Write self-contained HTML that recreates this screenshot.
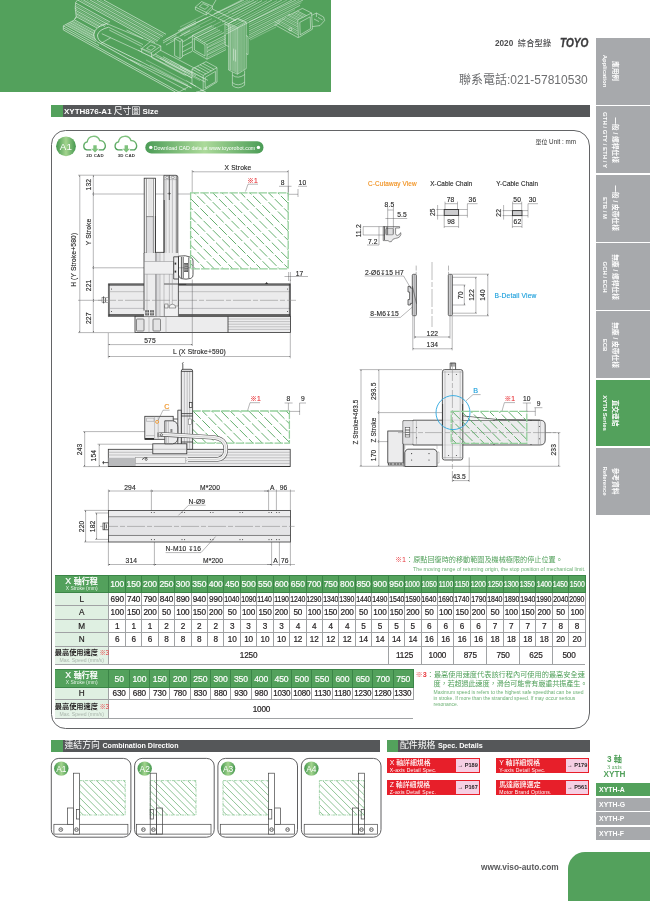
<!DOCTYPE html>
<html lang="zh-Hant">
<head>
<meta charset="utf-8">
<title>XYTH876-A1</title>
<style>
html,body{margin:0;padding:0;background:#fff;}
body{width:650px;height:901px;position:relative;overflow:hidden;font-family:"Liberation Sans","Noto Sans CJK TC",sans-serif;color:#231f20;}
.abs{position:absolute;}
.t{position:absolute;white-space:nowrap;line-height:1;}
.tc{position:absolute;white-space:nowrap;line-height:1;transform:translate(-50%,-50%);}
.tr{position:absolute;white-space:nowrap;line-height:1;transform:translate(-50%,-50%) rotate(-90deg);}
#banner{left:0;top:0;width:331px;height:92.2px;background:#53a15c;}
.bar{position:absolute;height:11.6px;background:#555759;}
.gsq{position:absolute;height:11.6px;width:11.8px;background:#53a15c;}
.tab{position:absolute;left:596px;width:54px;background:#a7a9ac;}
.tab.g{background:#53a15c;}
.tab .c,.tab .e{position:absolute;top:50%;white-space:nowrap;color:#fff;font-weight:bold;line-height:1;transform:translate(-50%,-50%) rotate(90deg);}
.tab .c{left:19.3px;font-size:6.7px;}
.tab .e{left:9px;font-size:6px;}
#mainbox{left:50.8px;top:129.8px;width:539px;height:598.8px;border:1.1px solid #636466;border-radius:14.5px 16px 16px 14.5px;box-sizing:border-box;}
.dim{font-size:6.6px;color:#231f20;}
table.spec{position:absolute;border-collapse:collapse;table-layout:fixed;font-size:8.2px;border-top:1px solid #4a4a4a;border-bottom:1px solid #4a4a4a;}
table.spec td,table.spec th{padding:0;text-align:center;vertical-align:middle;border:1px solid #a0a2a4;font-weight:normal;white-space:nowrap;overflow:hidden;line-height:1;padding-top:1px;letter-spacing:-0.15px;}
table.spec th{background:#53a15c;color:#fff;border-color:#3b8547;font-size:8.6px;letter-spacing:-0.1px;}
table.spec td{-webkit-text-stroke:0.2px #231f20;}
table.spec th{-webkit-text-stroke:0.2px #fff;}
table.spec td.l{background:#dff0e2;border-left:none;}
table.spec th.l{border-left:none;}
table.spec .n span{display:inline-block;transform:scaleX(0.85);transform-origin:50% 50%;margin:0 -3px;}
table.t2 .n span{transform:scaleX(0.98);}
table.t1 th.n span{transform:scaleX(0.8);}
table.spec td.sp{background:linear-gradient(#dff0e2,#e6f3e8);border-left:none;text-align:left;overflow:visible;letter-spacing:0;}
.hl{display:block;font-size:8px;font-weight:500;letter-spacing:0.1px;margin-top:-0.5px;}
.hl i{font-style:normal;font-size:8.8px;font-weight:normal;}
.hs{display:block;-webkit-text-stroke:0;font-size:4.95px;margin-top:0.9px;color:#e4f2e6;letter-spacing:0;}
.sl{display:block;font-size:7.2px;font-weight:bold;color:#231f20;letter-spacing:0;}
.sl{-webkit-text-stroke:0;}
.sl b{color:#e8383d;font-weight:normal;font-size:6.4px;margin-left:1.6px;letter-spacing:-0.3px;}
.ss{display:block;-webkit-text-stroke:0;font-size:5.1px;color:#a9b5ab;text-align:center;margin-top:2px;letter-spacing:0;}
.btn{position:absolute;width:93.4px;height:15.2px;background:#e71f2a;}
.btn .c1{position:absolute;left:3.2px;top:1.6px;font-size:6.9px;color:#fff;line-height:1;white-space:nowrap;font-weight:500;}
.btn .c2{position:absolute;left:3.2px;top:9.6px;font-size:5.1px;color:#fff;line-height:1;white-space:nowrap;letter-spacing:0.2px;}
.btn .pg{position:absolute;right:1px;top:1.4px;width:22.5px;height:12.4px;background:#f6cfe3;font-size:5.6px;font-weight:bold;color:#231f20;line-height:12.4px;text-align:center;white-space:nowrap;}
.cbox{position:absolute;top:758px;width:80px;height:79.5px;border:1px solid #4d4d4f;border-radius:8px;box-sizing:border-box;}
.badge{position:absolute;border-radius:50%;background:radial-gradient(circle at 50% 40%,#9fd08f 0%,#6fb56a 45%,#3f8f4a 100%);color:#fff;text-align:center;}
.rtab{position:absolute;left:595.8px;width:55px;height:13px;background:#a7a9ac;color:#fff;font-weight:bold;font-size:6.9px;line-height:13.4px;text-indent:3.3px;}
</style>
</head>
<body>
<div id="page" style="position:absolute;left:0;top:0;width:650px;height:901px;overflow:hidden;will-change:transform;">
<div id="banner" class="abs"></div>
<div class="t" style="left:495px;top:40.1px;font-size:8.2px;font-weight:bold;color:#4d4d4f;">2020&nbsp; <span style="font-weight:500;letter-spacing:0.2px;">綜合型錄</span></div>
<div class="t" style="left:560.3px;top:37.2px;font-size:12.2px;font-weight:bold;font-style:italic;color:#3c3c3e;transform:scaleX(0.83);transform-origin:0 0;-webkit-text-stroke:0.35px #3c3c3e;">TOYO</div>
<div class="t" style="left:459px;top:73.5px;font-size:12px;color:#6d6e70;">聯系電話:021-57810530</div>

<!-- title bar -->
<div class="gsq" style="left:51px;top:105.4px;"></div>
<div class="bar" style="left:62.6px;top:105.4px;width:527px;"></div>
<div class="t" style="left:64px;top:107.3px;font-size:8px;color:#fff;font-weight:bold;">XYTH876-A1 <span style="font-weight:normal;font-size:8.8px;">尺寸圖</span> Size</div>

<!-- side tabs -->
<div class="tab" style="top:38px;height:66.7px;"><span class="c">應用例</span><span class="e">Application</span></div>
<div class="tab" style="top:106.3px;height:66.6px;"><span class="c">一般 / 螺桿仕樣</span><span class="e">GTH / GTY / ETH / Y</span></div>
<div class="tab" style="top:174.6px;height:67.2px;"><span class="c">一般 / 皮帶仕樣</span><span class="e">ETB / M</span></div>
<div class="tab" style="top:243.2px;height:67px;"><span class="c">無塵 / 螺桿仕樣</span><span class="e">GCH / ECH</span></div>
<div class="tab" style="top:311.3px;height:66.8px;"><span class="c">無塵 / 皮帶仕樣</span><span class="e">ECB</span></div>
<div class="tab g" style="top:379.7px;height:66.7px;"><span class="c">直交連結</span><span class="e">XYTH Series</span></div>
<div class="tab" style="top:448px;height:66.5px;"><span class="c">參考資料</span><span class="e">Reference</span></div>

<div id="mainbox" class="abs"></div>
<!-- TABLES -->
<table class="spec t1" style="left:54.8px;top:575px;width:530.6px;">
<colgroup><col style="width:54.2px"><col style="width:16.428px"><col style="width:16.428px"><col style="width:16.428px"><col style="width:16.428px"><col style="width:16.428px"><col style="width:16.428px"><col style="width:16.428px"><col style="width:16.428px"><col style="width:16.428px"><col style="width:16.428px"><col style="width:16.428px"><col style="width:16.428px"><col style="width:16.428px"><col style="width:16.428px"><col style="width:16.428px"><col style="width:16.428px"><col style="width:16.428px"><col style="width:16.428px"><col style="width:16.428px"><col style="width:16.428px"><col style="width:16.428px"><col style="width:16.428px"><col style="width:16.428px"><col style="width:16.428px"><col style="width:16.428px"><col style="width:16.428px"><col style="width:16.428px"><col style="width:16.428px"><col style="width:16.428px"></colgroup>
<tr style="height:17px"><th class="l"><span class="hl"><i>X</i> 軸行程</span><span class="hs">X Stroke (mm)</span></th><th>100</th><th>150</th><th>200</th><th>250</th><th>300</th><th>350</th><th>400</th><th>450</th><th>500</th><th>550</th><th>600</th><th>650</th><th>700</th><th>750</th><th>800</th><th>850</th><th>900</th><th>950</th><th class="n"><span>1000</span></th><th class="n"><span>1050</span></th><th class="n"><span>1100</span></th><th class="n"><span>1150</span></th><th class="n"><span>1200</span></th><th class="n"><span>1250</span></th><th class="n"><span>1300</span></th><th class="n"><span>1350</span></th><th class="n"><span>1400</span></th><th class="n"><span>1450</span></th><th class="n"><span>1500</span></th></tr>
<tr style="height:13.4px"><td class="l">L</td><td>690</td><td>740</td><td>790</td><td>840</td><td>890</td><td>940</td><td>990</td><td class="n"><span>1040</span></td><td class="n"><span>1090</span></td><td class="n"><span>1140</span></td><td class="n"><span>1190</span></td><td class="n"><span>1240</span></td><td class="n"><span>1290</span></td><td class="n"><span>1340</span></td><td class="n"><span>1390</span></td><td class="n"><span>1440</span></td><td class="n"><span>1490</span></td><td class="n"><span>1540</span></td><td class="n"><span>1590</span></td><td class="n"><span>1640</span></td><td class="n"><span>1690</span></td><td class="n"><span>1740</span></td><td class="n"><span>1790</span></td><td class="n"><span>1840</span></td><td class="n"><span>1890</span></td><td class="n"><span>1940</span></td><td class="n"><span>1990</span></td><td class="n"><span>2040</span></td><td class="n"><span>2090</span></td></tr>
<tr style="height:13.8px"><td class="l">A</td><td>100</td><td>150</td><td>200</td><td>50</td><td>100</td><td>150</td><td>200</td><td>50</td><td>100</td><td>150</td><td>200</td><td>50</td><td>100</td><td>150</td><td>200</td><td>50</td><td>100</td><td>150</td><td>200</td><td>50</td><td>100</td><td>150</td><td>200</td><td>50</td><td>100</td><td>150</td><td>200</td><td>50</td><td>100</td></tr>
<tr style="height:13.3px"><td class="l">M</td><td>1</td><td>1</td><td>1</td><td>2</td><td>2</td><td>2</td><td>2</td><td>3</td><td>3</td><td>3</td><td>3</td><td>4</td><td>4</td><td>4</td><td>4</td><td>5</td><td>5</td><td>5</td><td>5</td><td>6</td><td>6</td><td>6</td><td>6</td><td>7</td><td>7</td><td>7</td><td>7</td><td>8</td><td>8</td></tr>
<tr style="height:13.7px"><td class="l">N</td><td>6</td><td>6</td><td>6</td><td>8</td><td>8</td><td>8</td><td>8</td><td>10</td><td>10</td><td>10</td><td>10</td><td>12</td><td>12</td><td>12</td><td>12</td><td>14</td><td>14</td><td>14</td><td>14</td><td>16</td><td>16</td><td>16</td><td>16</td><td>18</td><td>18</td><td>18</td><td>18</td><td>20</td><td>20</td></tr>
<tr style="height:18.2px"><td class="sp"><span class="sl">最高使用速度<b>※3</b></span><span class="ss">Max. Speed (mm/s)</span></td><td colspan="17">1250</td><td colspan="2">1125</td><td colspan="2">1000</td><td colspan="2">875</td><td colspan="2">750</td><td colspan="2">625</td><td colspan="2" style="border-right:none">500</td></tr>
</table>
<table class="spec t2" style="left:54.8px;top:669px;width:358.9px;">
<colgroup><col style="width:54.2px"><col style="width:20.31px"><col style="width:20.31px"><col style="width:20.31px"><col style="width:20.31px"><col style="width:20.31px"><col style="width:20.31px"><col style="width:20.31px"><col style="width:20.31px"><col style="width:20.31px"><col style="width:20.31px"><col style="width:20.31px"><col style="width:20.31px"><col style="width:20.31px"><col style="width:20.31px"><col style="width:20.31px"></colgroup>
<tr style="height:17.6px"><th class="l"><span class="hl"><i>X</i> 軸行程</span><span class="hs">X Stroke (mm)</span></th><th>50</th><th>100</th><th>150</th><th>200</th><th>250</th><th>300</th><th>350</th><th>400</th><th>450</th><th>500</th><th>550</th><th>600</th><th>650</th><th>700</th><th>750</th></tr>
<tr style="height:12.6px"><td class="l">H</td><td>630</td><td>680</td><td>730</td><td>780</td><td>830</td><td>880</td><td>930</td><td>980</td><td class="n"><span>1030</span></td><td class="n"><span>1080</span></td><td class="n"><span>1130</span></td><td class="n"><span>1180</span></td><td class="n"><span>1230</span></td><td class="n"><span>1280</span></td><td class="n"><span>1330</span></td></tr>
<tr style="height:19.2px"><td class="sp"><span class="sl">最高使用速度<b>※3</b></span><span class="ss">Max. Speed (mm/s)</span></td><td colspan="15" style="border-right:none">1000</td></tr>
</table>
<svg class="abs" style="left:0;top:0;" width="331" height="92" viewBox="0 0 331 92">
<g fill="none" stroke="#fff" stroke-width="0.55" stroke-opacity="0.85" stroke-linejoin="round">
<!-- X rail end face -->
<path d="M63.3,25.9 L74.4,19.9 L76.2,17 L75.2,8 L75.6,2.5 L77.6,0 M63.3,25.9 V29.9 M76.2,17 L74.6,19 M75.2,8 L76.6,9.4"/>
<!-- X rail long lines -->
<g stroke-width="0.6" stroke-opacity="0.9">
<path d="M103.7,0 L166,34.3 M96.7,0 L163,36.5 M90,0 L160,38.5 M83.3,0 L158,41 M77.6,0 L155,42.6"/>
<path d="M75.6,3 L110,22 M75.3,6.5 L108,24.5 M75.3,10.2 L105,26.5 M75.8,13.5 L100,26.8 M76,16.5 L97,28"/>
<path d="M74.4,19.9 L95,31.2 M72.1,21.4 L94.3,33.6 M69.9,22.6 L94,35.9 M67.7,23.7 L94.6,38.5 M65.5,24.8 L96,41.6 M63.3,25.9 L99,45.5"/>
<path d="M63.3,27.9 L179,92 M63.3,29.9 L175.4,92"/>
</g>
<path d="M80.5,0 L157,42 M86.6,0 L159,39.8 M93.4,0 L161.6,37.4 M100,0 L164.4,35.4 M75.4,4.8 L109,23.2 M75.2,8.4 L106,25.4 M75.6,12 L102,26.6 M76,15 L98.6,27.4 M73.2,20.7 L94.6,32.4 M71,22 L94,34.8 M68.8,23.2 L94.2,37.2 M66.6,24.3 L95.2,40" stroke-opacity="0.5"/>
<!-- cable loop -->
<path d="M106.7,23.6 Q95,26.5 93.8,34.2 Q94,41 100.6,43.5 L141,66" stroke-width="0.7"/>
<path d="M108.6,27.2 Q99,29.5 97.5,35 Q97.6,40 101.8,42.3 L141.7,62" stroke-width="0.7"/>
<path d="M106.7,23.6 L150.3,41.7 M108.6,27.2 L143,44.6 M101.8,33.7 L141.7,52 M109.2,30 L141.7,46.4 M100.6,43.5 L110.6,37.8 M126.5,30 L143,38.5"/>
<!-- connector block -->
<path d="M141.7,48.5 L150.3,41.7 L160.8,46 L151.5,52.6 Z M141.7,48.5 V52.4 L151.5,56.6 V52.6 M151.5,56.6 L160.8,50 V46 M146.6,48.4 L151,45 L155.6,47 L151,50.4 Z"/>
<!-- carriage lower rails to bottom-right -->
<path d="M151,56.6 L192,78 M155,54 L196,75.6 M160,50 L200,71 M141.7,62 L191.5,87.8 M141,66 L186,90 M160,58 L205,82 M163,56.6 L208,80.4 M130,59.5 L191.5,87.8 M179,92 L188,87"/>
<path d="M140,48 L186,72.5 M138,50 L184,74.6" stroke-opacity="0.6"/>
<!-- vertical plate -->
<path d="M174.6,38.5 L180,41.6 V58.6 L174.6,55.6 Z M174.6,38.5 L177,37 L182.4,40 L180,41.6 M182.4,40 V57 L180,58.6"/>
<!-- Y beam lower part near carriage -->
<path d="M163,43 L176.6,35.2 M166,45 L174.6,40.2 M182.4,42 L192,36.6 M182.4,47 L192,41.8 M182.4,52 L192,47 M182.4,56 L192,51.4"/>
<path d="M176,33.6 L186,27.8 L244,0 M163,41 L176,33.6 M180,36 L190,30.6 M178,31 L196,21"/>
<!-- center motor -->
<path d="M192.4,35.4 L207,44.6 V59.2 L192.4,50.8 Z M194.4,38.6 L205,45 V56 L194.4,50 Z"/>
<path d="M207,44.6 L226,35 M207,48 L226,38.6 M207,51.6 L226,42 M207,55.2 L226,45.6 M207,59.2 L226,49.6 M192.4,35.4 L212,25.6 M196,37.6 L216,27.6 M200,40 L220,30 M204,42.6 L224,32.6"/>
<!-- lower motor -->
<path d="M192,69 L206,61.6 L217,67.6 L203.2,75.4 Z M203.2,75.4 V90.6 L217,82 V67.6 M192,69 V84 L203.2,90.6 M205.2,77.4 V88 L215.4,81.8 V71.4 Z"/>
<path d="M194.6,67.6 L206,74 M197.4,66.2 L208.6,72.4 M200,64.8 L211.4,71 M202.8,63.4 L214,69.4"/>
<path d="M192,73 L180,66.4 M192,78 L184,73.6 M192,84 L186,80.6 M196,92 L203.2,90.6"/>
<!-- top small block -->
<path d="M195.4,7 L201.6,1.6 L212.4,6.2 L206.2,12.4 Z M195.4,7 V9.6 L206.2,15 V12.4 M206.2,15 L212.4,9 V6.2 M199.4,6.6 L203,3.6 L208.6,6.2 L205,9.4 Z"/>
<!-- green strap over beam -->
<path d="M206.2,12.4 L228,23.4 M212.4,9 L236,20.6 M212.4,6.2 L216,0" />
<!-- Y beam long lines -->
<path d="M214,14 L242,0 M218,18 L254,0 M222,22 L262,0.6 M226,25 L272,0 M226,30 L282,0 M226,34 L292,0 M249,22 L296,0 M249,26.6 L303,0 M249,31 L300,5.4 M249,35 L290,14 M249,38.6 L280,22.6"/>
<path d="M228,12 L250,0.6 M232,14 L256,1.6" stroke-opacity="0.6"/>
<g transform="translate(-3,0.6)">
<!-- Z column -->
<path d="M231.6,23 L240.6,17.6 L249.2,21.6 L240.4,27 Z M231.6,23 V69.4 L240.4,73.6 V27 M249.2,21.6 V68 L240.4,73.6 M233.6,25 V69.6 M236,26 V70.6 M238.2,27 V71.6 M243,26.6 V71 M246,24.6 V69.4"/>
<path d="M228,23.4 V44 L231.6,46 M228,23.4 L231.6,25.4 M249.2,35 L251,36 V54 L249.2,53 M236.6,48 V60 M238.6,49 V61"/>
<path d="M235.4,71.6 V85 Q241,89.6 247.6,84.6 V70 M235.4,82 Q241,86.6 247.6,81.6 M235.4,74.6 Q241,78.8 247.6,74"/>
<path d="M233.6,21.8 L240.6,18.6 L246.6,21.4" stroke-opacity="0.6"/>
</g>
<!-- right motor -->
<path d="M288.4,15.4 L302.4,8.4 L311.6,13 L297.8,20 Z M297.8,20 L298.4,37.6 L312.4,29.2 L311.6,13 M299.8,22.4 L300.2,34.8 L310.6,28.6 L310.2,16.8 Z"/>
<path d="M274.6,21.6 L297.8,34.6 M274.6,24.6 L298,37.6 M278,20 L297.8,31 M282,18.6 L297.8,27 M285,17 L297.8,23.6 M291.4,14 L300.4,18.6 M294.4,12.4 L303.4,17.2 M297.4,11 L306.4,15.6"/>
<path d="M311.6,15.4 L316.4,13 L323.6,17 L324.6,20.6 L320,25.6 L312.4,26.6 M316.4,13 V17 M314,19 L319,21.6 M318,17.4 L322.6,20"/>
<circle cx="290.4" cy="29.4" r="1.5"/>
<!-- extra beam density -->
<g stroke-opacity="0.55">
<path d="M216,16 L248,0 M220,20 L258,0.4 M224,23.6 L267,0.6 M226,27.6 L277,0.6 M226,32 L287,0 M249,24.4 L299.6,0 M249,28.8 L301.4,2.6 M249,33 L295,9.6 M249,36.8 L285,18.4 M250,40 L276,27"/>
<path d="M180,27 L204.6,14.8 M180,30.8 L208,17 M181,34 L212,18.6 M184,36 L216,20.4 M188,38 L221,21.6 M192.4,39.4 L226,23 M166,39 L196,24 M170,41 L200,26 M180,31 L206,18"/>
<path d="M208,46.4 L226,36.8 M208,50 L226,40.4 M208,53.4 L226,43.8 M208,57.2 L226,47.6 M194,36.6 L214,26.6 M198,39 L218,29 M202,41.4 L222,31.4"/>
<path d="M276.6,20.8 L297.8,32.8 M280,19.4 L297.8,29 M283.6,17.8 L297.8,25.4 M287,16.2 L297.8,21.8 M289.8,14.8 L299,19.4 M293,13.2 L302,17.8 M296,11.6 L305,16.4"/>
<path transform="translate(-3,0.6)" d="M232.6,24 V69.4 M234.8,25.6 V70 M237.2,26.6 V71 M239.4,27.2 V72.4 M241.6,27 V72.4 M244.4,25.6 V70.4 M247.6,23.2 V68.6"/>
<path d="M152,58 L186,76 M156,56 L190,74 M146,60 L186,81 M150,65 L188,85 M165,62 L200,80.6 M170,60.6 L204,78.6"/>
</g>
<!-- extra detail lines on X rail right -->
<path d="M196,86.5 L190,83 M200,90 L206,92"/>
</g>
</svg>
<!-- DRAWINGS -->
<svg class="abs" style="left:0;top:0;will-change:transform;" width="650" height="901" viewBox="0 0 650 901" font-family="Liberation Sans, Noto Sans CJK TC, sans-serif">
<defs>
<pattern id="hat" width="10" height="10" patternUnits="userSpaceOnUse">
<path d="M-1,-1 L7.6,7.6 M9,9 L11,11" stroke="#55a660" stroke-width="0.75" fill="none"/>
</pattern>
<pattern id="hat2" width="7" height="7" patternUnits="userSpaceOnUse">
<path d="M-1,-1 L8,8" stroke="#6bb374" stroke-width="0.6" fill="none"/>
</pattern>
<radialGradient id="bg" cx="50%" cy="35%" r="70%">
<stop offset="0" stop-color="#a9d69a"/><stop offset="0.5" stop-color="#6fb66b"/><stop offset="1" stop-color="#3e8e49"/>
</radialGradient>
<linearGradient id="bgh" x1="0" y1="0" x2="1" y2="0">
<stop offset="0" stop-color="#45984f"/><stop offset="0.5" stop-color="#a3d48e"/><stop offset="1" stop-color="#45984f"/>
</linearGradient>
<linearGradient id="cl" gradientUnits="userSpaceOnUse" x1="0" y1="135" x2="0" y2="150.5">
<stop offset="0" stop-color="#86c683"/><stop offset="1" stop-color="#4a9d55"/>
</linearGradient>
<linearGradient id="pillh" x1="0" y1="0" x2="1" y2="0">
<stop offset="0" stop-color="#4b9c56"/><stop offset="0.5" stop-color="#acda9a"/><stop offset="1" stop-color="#4b9c56"/>
</linearGradient>
<linearGradient id="pill" x1="0" y1="0" x2="0" y2="1">
<stop offset="0" stop-color="#7dbd78"/><stop offset="0.5" stop-color="#58a55e"/><stop offset="1" stop-color="#3f8f4b"/>
</linearGradient>
<marker id="ar" viewBox="0 0 6 4" refX="6" refY="2" markerWidth="4" markerHeight="2.6" orient="auto-start-reverse"><path d="M0,0.4 L6,2 L0,3.6 Z" fill="#333"/></marker>
</defs>
<style>
.o{fill:#ececed;stroke:#333;stroke-width:0.8;}
.o2{fill:#e3e3e4;stroke:#444;stroke-width:0.6;}
.w{fill:#fff;stroke:#333;stroke-width:0.7;}
.k{fill:none;stroke:#333;stroke-width:0.8;}
.g{fill:none;stroke:#8a8a8c;stroke-width:0.45;}
.g2{fill:none;stroke:#b5b5b7;stroke-width:0.5;}
.d{fill:none;stroke:#4a4a4c;stroke-width:0.4;}
.da{fill:none;stroke:#4a4a4c;stroke-width:0.4;marker-start:url(#ar);marker-end:url(#ar);}
.cl{fill:none;stroke:#888;stroke-width:0.55;stroke-dasharray:18 2 5 2;}
.hb{fill:url(#hat);stroke:#8fcc98;stroke-width:0.9;stroke-dasharray:5 1.2;}
.hbd{fill:none;stroke:#94cf9c;stroke-width:1.3;stroke-dasharray:8.5 1.2;}
.tx{font-size:6.7px;fill:#2a2a2a;stroke:#2a2a2a;stroke-width:0.14;text-anchor:middle;letter-spacing:0.15px;}
.txl{font-size:6.7px;fill:#2a2a2a;stroke:#2a2a2a;stroke-width:0.14;letter-spacing:0.15px;}
.red{fill:#e8383d;stroke:#e8383d;}
.org{fill:#f0901e;stroke:#f0901e;}
.blu{fill:#1ea0dc;stroke:#1ea0dc;}
</style>
<!-- ===== badge + icons ===== -->
<g id="hdricons">
<circle cx="66" cy="146.3" r="9.9" fill="url(#bgh)"/>
<text x="66" y="149.8" font-size="9.8" fill="#fff" text-anchor="middle" letter-spacing="0.2">A1</text>
<g fill="none" stroke="url(#cl)" stroke-width="1.35" stroke-linecap="round" stroke-linejoin="round">
<path d="M90.8,149.9 H86.8 A4.1,4.1 0 0 1 87.2,141.9 A6.5,6.5 0 0 1 99.8,140.7 A5.1,5.1 0 0 1 103.2,149.9 H99.2"/>
<path transform="translate(31.3,0)" d="M90.8,149.9 H86.8 A4.1,4.1 0 0 1 87.2,141.9 A6.5,6.5 0 0 1 99.8,140.7 A5.1,5.1 0 0 1 103.2,149.9 H99.2"/>
</g>
<path d="M93.3,145.3 h3.4 v3.5 h2 l-3.7,3.6 l-3.7,-3.6 h2 z" fill="#7fc27d"/>
<path transform="translate(31.3,0)" d="M93.3,145.3 h3.4 v3.5 h2 l-3.7,3.6 l-3.7,-3.6 h2 z" fill="#7fc27d"/>
<text x="95.1" y="156.8" font-size="4.4" font-weight="bold" fill="#333" text-anchor="middle" letter-spacing="0.2">2D CAD</text>
<text x="126.4" y="156.8" font-size="4.4" font-weight="bold" fill="#333" text-anchor="middle" letter-spacing="0.2">3D CAD</text>
<rect x="145.3" y="141.2" width="118.2" height="12.4" rx="6.2" fill="url(#pillh)"/>
<circle cx="150.8" cy="147.4" r="1.7" fill="#fff"/>
<circle cx="258.4" cy="147.4" r="1.7" fill="#fff"/>
<text x="204.5" y="149.7" font-size="5.3" fill="#fff" text-anchor="middle">Download CAD data at www.toyorobot.com</text>
<text x="535.6" y="143.7" font-size="6.3" fill="#333"><tspan font-size="5.9">單位</tspan> Unit : mm</text>
</g>

<!-- ===== TOP VIEW ===== -->
<g id="topview">
<!-- extension / dimension lines -->
<path class="d" d="M78,175.2 H164 M92,194 H190.5 M92,267.8 H190 M78,300.3 H104 M78,332.6 H135"/>
<path class="da" d="M79.8,175.2 V332.6"/>
<path class="da" d="M93.3,175.2 V194"/>
<path class="da" d="M93.3,194 V267.8"/>
<path class="da" d="M93.3,267.8 V300.3"/>
<path class="da" d="M93.3,300.3 V332.6"/>
<text class="tx" transform="translate(75.6,259.8) rotate(-90)" letter-spacing="0.05">H (Y Stroke+580)</text>
<text class="tx" transform="translate(90.5,184.6) rotate(-90)">132</text>
<text class="tx" transform="translate(90.5,232) rotate(-90)">Y Stroke</text>
<text class="tx" transform="translate(90.5,285.4) rotate(-90)">221</text>
<text class="tx" transform="translate(90.5,318.2) rotate(-90)">227</text>
<!-- X stroke dim -->
<path class="d" d="M192.2,170 V192.5 M288.3,170 V192 M288.3,186.5 V196.5 M298,189 V197 M290.3,279.5 V346"/>
<path class="da" d="M192.2,171.8 H288.3"/>
<text class="tx" x="238" y="169.6">X Stroke</text>
<path class="d" d="M279,186.3 H291.5 M288.3,194.3 H298"/>
<text class="tx" x="282.6" y="184.6">8</text>
<path class="d" d="M298,186.3 H307"/>
<text class="tx" x="302.4" y="184.6">10</text>
<text class="tx red" x="252.5" y="182.6">※1</text>
<path class="d" d="M248,184.2 H258 M248,184.2 L245.5,191.5"/>
<path class="d" d="M284.5,276.5 H308 M288.6,272 V281 M290.4,272 V281"/>
<text class="tx" x="299.6" y="276">17</text>
<!-- cable chain -->
<rect x="144.2" y="178.2" width="11.4" height="75" fill="#f6f6f6" stroke="#333" stroke-width="0.8"/>
<rect x="146.4" y="216.6" width="7" height="36.4" fill="#dedee0"/>
<path d="M146.4,178.6 V253 M153.4,178.6 V253 M146.4,216.6 H153.4" fill="none" stroke="#444" stroke-width="0.55"/>
<path class="g2" d="M149,178.6 V216.6 M151,178.6 V216.6"/>
<!-- Y actuator -->
<path class="o" d="M163.9,175.3 H176 Q177.8,175.3 177.8,177 V284 H163.9 Z"/>
<path class="g" d="M166,179.6 V284 M169.3,200 V284 M172.4,179.6 V284 M163.9,179.6 H177.8"/>
<path d="M176.3,176 V284" stroke="#555" stroke-width="0.7" fill="none"/>
<path class="k" d="M169.3,175.3 V200" stroke-width="0.5"/>
<ellipse cx="167.2" cy="177.4" rx="1.6" ry="1.2" fill="none" stroke="#444" stroke-width="0.4"/>
<ellipse cx="172.8" cy="177.4" rx="1.6" ry="1.2" fill="none" stroke="#444" stroke-width="0.4"/>
<path d="M167.4,193.6 h3.6 M169.3,192.2 v2.8" stroke="#333" stroke-width="0.5"/>
<!-- X body -->
<rect x="108.3" y="284" width="182.2" height="32.3" fill="#ebebec" stroke="#444" stroke-width="0.7"/>
<path d="M108.3,284.6 H290.5 M108.3,315.1 H290.5" stroke="#666" stroke-width="2.2" fill="none"/>
<path d="M110,291.7 H290 M110,308.4 H290" stroke="#b4b4b6" stroke-width="0.8" fill="none"/>
<path class="k" d="M109.2,284 V316.3" stroke-width="1.6" stroke="#555"/>
<path class="k" d="M289.4,284 V316.3" stroke-width="0.7" stroke="#666"/>
<rect x="102" y="297.4" width="6.3" height="5.2" fill="#fff" stroke="#555" stroke-width="0.45"/>
<path class="k" d="M103.6,296.4 V303.4 M105.6,298 V302" stroke-width="0.4"/>
<!-- lower section -->
<rect class="o" x="135" y="316.3" width="155.5" height="16.3"/>
<path class="g" d="M228,319 H290 M228,321.6 H290 M228,324.2 H290 M228,326.8 H290 M228,329.4 H290"/>
<path class="k" d="M228,316.3 V332.6" stroke-width="0.5"/>
<path class="g" d="M166,316.3 V332.6 M149,316.3 V332.6"/>
<rect class="o2" x="136.5" y="319" width="7.5" height="12" rx="0.8"/>
<rect class="o2" x="153" y="319" width="7.5" height="12" rx="0.8"/>
<!-- Y base wide body -->
<rect x="144" y="253" width="34.4" height="63.3" fill="#ececed"/>
<path class="k" d="M144,253 V310.6 M178.4,284 V316.3 M164,284 H178.4" stroke-width="0.8"/>
<rect x="155" y="253" width="1.9" height="63.3" fill="#a9a9ab"/>
<rect x="157" y="253" width="2.6" height="63.3" fill="#dadadc"/>
<path class="g" d="M164,253 V316 M169.4,274 V305 M172.3,274 V305 M160,253 V316 M147,274 V310"/>
<rect x="144.4" y="261.4" width="29" height="12.7" fill="#efeff0" stroke="#8a8a8c" stroke-width="0.5"/>

<path class="k" d="M155.4,216 V252.4 H164.2 V200" fill="none" stroke-width="0.8"/>
<rect x="145.3" y="310.2" width="3.6" height="5.2" fill="#4a4a4a"/><rect x="150.2" y="310.2" width="3.6" height="5.2" fill="#4a4a4a"/>
<path d="M145.3,312.8 H153.8 M147.1,310.2 V315.4 M152,310.2 V315.4" stroke="#eee" stroke-width="0.7"/>
<rect x="164.6" y="306" width="13.6" height="10.3" stroke="#666" stroke-width="0.5" fill="#f1f1f2"/>
<rect x="164.8" y="304" width="3.2" height="4" fill="#f4f4f4" stroke="#444" stroke-width="0.5"/>
<path d="M169,308 q0,-3.8 3.4,-3.8 q3.4,0 3.4,3.8 z" fill="#f4f4f4" stroke="#444" stroke-width="0.5"/>
<!-- Z head -->
<path class="k" d="M173.7,256.8 H178.5 V279 H173.7 Z" fill="#e8e8e8"/>
<path class="k" d="M178.5,256.2 Q186,254.8 190.6,257.2 Q193.2,258.4 193,261 V274.6 Q193.4,277.4 190.8,278.4 Q186,279.8 181.4,278.6 Q178.5,277.6 178.5,274.6 Z" fill="#fff" stroke-width="0.9"/>
<path class="k" d="M181.4,257 V278.4 M183.2,257 V278 M188.8,257.4 V278" stroke-width="0.5"/>
<rect x="184.6" y="263.2" width="3.2" height="8.6" fill="#777" stroke="#333" stroke-width="0.4"/>
<path d="M184.6,265.3 H187.8 M184.6,267.5 H187.8 M184.6,269.7 H187.8" stroke="#ddd" stroke-width="0.4"/>
<rect x="174.6" y="262.6" width="1.6" height="2" fill="#333"/><rect x="174.6" y="270.6" width="1.6" height="2" fill="#333"/>
<path class="k" d="M178.5,279 V284.4 H186.2" stroke-width="0.6"/>
<!-- hatch -->
<clipPath id="hc1"><rect x="190.6" y="192.8" width="97.6" height="76.0"/></clipPath><g clip-path="url(#hc1)" fill="none" stroke="#5dab67" stroke-width="0.95" stroke-dasharray="11 2.2"><path d="M119.7,192.8 L195.7,268.8 M147.6,192.8 L223.6,268.8 M175.5,192.8 L251.5,268.8 M203.4,192.8 L279.4,268.8 M231.3,192.8 L307.3,268.8 M259.2,192.8 L335.2,268.8 M287.1,192.8 L363.1,268.8" stroke-dashoffset="0.0"/><path d="M129.0,192.8 L205.0,268.8 M156.9,192.8 L232.9,268.8 M184.8,192.8 L260.8,268.8 M212.7,192.8 L288.7,268.8 M240.6,192.8 L316.6,268.8 M268.5,192.8 L344.5,268.8" stroke-dashoffset="4.4"/><path d="M138.3,192.8 L214.3,268.8 M166.2,192.8 L242.2,268.8 M194.1,192.8 L270.1,268.8 M222.0,192.8 L298.0,268.8 M249.9,192.8 L325.9,268.8 M277.8,192.8 L353.8,268.8" stroke-dashoffset="8.8"/></g>
<rect class="hbd" x="190.6" y="192.8" width="97.6" height="76"/>
<!-- centerline -->
<path class="cl" d="M98,300.3 H296"/>
<!-- vertical dim line 575 -->
<path class="d" d="M192.3,279.5 V346 M108.3,333 V358.3"/>
<path class="da" d="M108.3,344.6 H192.3"/>
<path class="da" d="M108.3,356.5 H290.3"/>
<path class="d" d="M290.3,346 V358.3"/>
<text class="tx" x="150" y="343">575</text>
<text class="tx" x="199.5" y="354.4">L (X Stroke+590)</text>
<path d="M265,284 l1.6,-2 l1.6,2 z" fill="#333"/>
<circle cx="287.5" cy="289" r="0.5" fill="#333"/><circle cx="287.5" cy="311.5" r="0.5" fill="#333"/>
<circle cx="111.5" cy="289" r="0.5" fill="#333"/><circle cx="111.5" cy="311.5" r="0.5" fill="#333"/>
</g>
<!-- ===== FRONT VIEW ===== -->
<g id="frontview">
<!-- dims -->
<path class="d" d="M83,431.6 H158 M97.5,444.2 H153 M83,466.6 H108.3"/>
<path class="da" d="M84.7,431.6 V466.6"/>
<path class="da" d="M99.2,444.2 V466.6"/>
<text class="tx" transform="translate(82,449.4) rotate(-90)">243</text>
<text class="tx" transform="translate(96.4,455.6) rotate(-90)">154</text>
<!-- hatch -->
<clipPath id="hc2"><rect x="192.2" y="411.0" width="97.2" height="32.2"/></clipPath><g clip-path="url(#hc2)" fill="none" stroke="#5dab67" stroke-width="0.95" stroke-dasharray="11 2.2"><path d="M165.1,411.0 L197.3,443.2 M193.0,411.0 L225.2,443.2 M220.9,411.0 L253.1,443.2 M248.8,411.0 L281.0,443.2 M276.7,411.0 L308.9,443.2" stroke-dashoffset="0.0"/><path d="M174.4,411.0 L206.6,443.2 M202.3,411.0 L234.5,443.2 M230.2,411.0 L262.4,443.2 M258.1,411.0 L290.3,443.2 M286.0,411.0 L318.2,443.2" stroke-dashoffset="4.4"/><path d="M183.7,411.0 L215.9,443.2 M211.6,411.0 L243.8,443.2 M239.5,411.0 L271.7,443.2 M267.4,411.0 L299.6,443.2" stroke-dashoffset="8.8"/></g>
<rect class="hbd" x="192.2" y="411" width="97.2" height="32.2"/>
<text class="tx red" x="255.6" y="401">※1</text>
<path class="d" d="M250,402.7 H260 M250,402.7 L247.6,410.6"/>
<text class="tx" x="288.5" y="401">8</text>
<text class="tx" x="303" y="401">9</text>
<path class="d" d="M284.6,403 H292.6 M288.4,403 V411 M289.4,411.4 H300 M299.6,403 V415 M299.6,403 H306"/>
<!-- base -->
<rect class="o" x="108.3" y="449.3" width="181.9" height="17.2" fill="#efeff0"/>
<rect x="108.7" y="457.8" width="27" height="8.4" fill="#b9babc"/>
<path class="g" d="M108.5,452.3 H290 M108.5,455 H290 M135.6,457.8 H290 M135.6,460.6 H290 M135.6,463.4 H290"/>
<path d="M108.3,466.5 H290.2" stroke="#333" stroke-width="1.1"/>
<path class="k" d="M102.3,462.6 H108.3 M103.4,461 V464.2" stroke-width="0.6"/>
<rect x="135.6" y="457.8" width="50" height="5.4" stroke-width="0.4" fill="#f2f2f2" stroke="#888"/>
<path class="k" d="M142,459.6 l2.4,-1.8 h3" stroke-width="0.4"/>
<circle cx="146.2" cy="459.4" r="1" class="w" stroke-width="0.4"/>
<!-- cable chain loop -->
<!-- Z column -->
<path class="o" d="M181.3,449.3 V371 Q181.3,369.3 183,369.3 H191 Q192.6,369.3 192.6,371 V449.3 Z"/>
<path class="g" d="M184.4,371 V449 M187.2,371 V449 M189.6,371 V449"/>
<path class="k" d="M181.3,371.4 H192.6" stroke-width="0.5"/>
<path class="k" d="M182.8,369.3 V363.8 M182.2,363.8 l1.2,-1.6" stroke-width="0.7"/>
<rect class="w" x="189.6" y="402.4" width="2.4" height="5" stroke-width="0.4"/>
<path class="o" d="M177.8,410.2 H181.3 V449.3 H177.8 Z" stroke-width="0.6"/>
<path class="k" d="M181.3,413.6 H192.6 M181.3,416 H192.6 M181.3,442 H192.6" stroke-width="0.4"/>
<rect x="188.6" y="419" width="2.6" height="5.4" fill="#fff" stroke="#444" stroke-width="0.4"/>
<!-- carriage block -->
<rect class="o" x="152.8" y="443.8" width="34" height="10" stroke-width="0.6" fill="#f1f1f1"/>
<path class="g" d="M152.8,449.3 H186.8"/>
<rect class="o" x="144.8" y="416.3" width="28.4" height="23" stroke-width="1" fill="#ececed"/>
<path class="g" d="M146.5,418.2 H154 V421.4 H146.5 Z M154.6,416.5 V439 M158.2,416.5 V439 M146,435.6 H154.6"/>
<rect x="145" y="438" width="9" height="1.8" fill="#333"/>
<path class="o" d="M164.8,420.8 H172.6 Q177.8,421.6 177.8,427 V437.6 Q177.8,443.2 172.6,443.8 H164.8 Z" stroke-width="0.6" fill="#f3f3f3"/>
<path class="g" d="M166.4,420.8 V443.8 M168.4,420.8 V443.8"/>
<rect x="170.4" y="429" width="2" height="3.4" fill="#888"/>
<path class="k" d="M173.2,419 H177.8" stroke-width="0.6"/>
<path d="M159,434.2 L213,437.4 Q225.8,438.4 225.8,449 Q225.8,459.4 215,459.6 L188,459.6" fill="none" stroke="#4a4a4a" stroke-width="4.4"/>
<path d="M159,434.2 L213,437.4 Q225.8,438.4 225.8,449 Q225.8,459.4 215,459.6 L187,459.6" fill="none" stroke="#f3f3f3" stroke-width="3.3"/>
<path d="M159,434.2 L213,437.4 Q225.8,438.4 225.8,449 Q225.8,459.4 215,459.6 L187,459.6" fill="none" stroke="#aaa" stroke-width="0.4"/>
<circle cx="161.4" cy="434.8" r="1.1" class="w" stroke-width="0.4"/>
<path class="k" d="M158,432.4 V437.2" stroke-width="0.6"/>
<!-- C label -->
<text class="tx org" x="167" y="408.6" style="font-size:7.2px">C</text>
<path d="M163,410.2 H169.6 M163,410.2 L158,420.6" fill="none" stroke="#555" stroke-width="0.4"/>
<circle cx="157.1" cy="421.9" r="1.5" fill="none" stroke="#f0901e" stroke-width="0.8"/>
</g>

<!-- ===== BOTTOM VIEW ===== -->
<g id="bottomview">
<path class="d" d="M108.4,489.5 V510.4 M151.4,489.5 V512 M268.6,489.5 V512 M276.4,489.5 V512 M290.4,489.5 V510.4"/>
<path class="da" d="M108.4,491 H151.4"/>
<path class="da" d="M151.4,491 H268.6"/>
<path class="d" d="M264,491 H295 "/>
<path class="d" d="M108.4,542 V566 M154.4,540 V566 M271.6,540 V566 M279.4,540 V566 M290.4,542 V566"/>
<path class="da" d="M108.4,564.5 H154.4"/>
<path class="da" d="M154.4,564.5 H271.6"/>
<path class="d" d="M267,564.5 H295"/>
<text class="tx" x="130" y="489.6">294</text>
<text class="tx" x="210" y="489.6">M*200</text>
<text class="tx" x="272.4" y="489.6">A</text>
<text class="tx" x="283.6" y="489.6">96</text>
<text class="tx" x="131.4" y="563">314</text>
<text class="tx" x="213" y="563">M*200</text>
<text class="tx" x="275.6" y="563">A</text>
<text class="tx" x="284.8" y="563">76</text>
<path class="d" d="M84,510.4 H108.4 M84,542 H108.4 M95,513 H108.4 M95,539.4 H108.4"/>
<path class="da" d="M85.6,510.4 V542"/>
<path class="da" d="M96.6,513 V539.4"/>
<text class="tx" transform="translate(83.6,526.4) rotate(-90)">220</text>
<text class="tx" transform="translate(94.8,526.4) rotate(-90)">182</text>
<rect class="o" x="108.4" y="510.4" width="182" height="31.6" stroke-width="1" fill="#ededee"/>
<path class="k" d="M108.6,517 H290.2 M108.6,535.2 H290.2" stroke-width="0.5" stroke="#666"/>
<rect x="108.9" y="517.3" width="181" height="17.6" fill="#e4e4e6"/>
<path class="cl" d="M100,526.4 H294.6"/>
<rect class="w" x="103" y="523" width="5.4" height="6.8" stroke-width="0.5"/>
<path class="k" d="M104.6,523 V529.8 M106.4,524.4 V528.4" stroke-width="0.4"/>
<g fill="#444">
<circle cx="151.4" cy="512.5" r="0.55"/><circle cx="154.2" cy="512.5" r="0.55"/>
<circle cx="182" cy="512.5" r="0.55"/><circle cx="184.6" cy="512.5" r="0.55"/>
<circle cx="210.4" cy="512.5" r="0.55"/><circle cx="213" cy="512.5" r="0.55"/>
<circle cx="240" cy="512.5" r="0.55"/><circle cx="242.6" cy="512.5" r="0.55"/>
<circle cx="269" cy="512.5" r="0.55"/><circle cx="271.5" cy="512.5" r="0.55"/>
<circle cx="276.6" cy="512.5" r="0.55"/><circle cx="279.2" cy="512.5" r="0.55"/>
<circle cx="151.4" cy="539.6" r="0.55"/><circle cx="154.4" cy="539.6" r="0.55"/>
<circle cx="182" cy="539.6" r="0.55"/><circle cx="184.6" cy="539.6" r="0.55"/>
<circle cx="210.4" cy="539.6" r="0.55"/><circle cx="213" cy="539.6" r="0.55"/>
<circle cx="240" cy="539.6" r="0.55"/><circle cx="242.6" cy="539.6" r="0.55"/>
<circle cx="269" cy="539.6" r="0.55"/><circle cx="271.6" cy="539.6" r="0.55"/>
<circle cx="276.6" cy="539.6" r="0.55"/><circle cx="279.2" cy="539.6" r="0.55"/>
</g>
<text class="txl" x="188.6" y="504">N-Ø9</text>
<path class="d" d="M188.6,505.2 H205.6 M188.6,505.2 L178.4,515.4"/>
<text class="txl" x="165.6" y="551.4">N-M10 <tspan font-size="6.2" dx="-0.2" font-family="DejaVu Sans, sans-serif">↧</tspan><tspan dx="-0.2">16</tspan></text>
<path class="d" d="M165.6,552.6 H201 M201,552.6 L215.6,536.6"/>
</g>
<!-- ===== C-CUTAWAY / CABLE CHAINS ===== -->
<g id="cviews">
<text class="tx org" x="392.4" y="185.6" style="font-size:6.4px;letter-spacing:0.12px">C-Cutaway View</text>
<text class="tx" x="451.3" y="185.6" style="font-size:6.3px;letter-spacing:0.1px">X-Cable Chain</text>
<text class="tx" x="517.2" y="185.6" style="font-size:6.3px;letter-spacing:0.1px">Y-Cable Chain</text>
<!-- c cutaway -->
<path d="M383.2,226.6 H399.6 V228 H395.6 V233.6 Q395.6,235.4 397.4,235.4 Q399.6,235.2 400.6,232.6 Q401.6,234 400,236.4 Q398.4,238.2 395.4,238.4 Q392.4,238.6 391.4,241.6 Q389.6,242.4 388,240.6 H383.2 Z" fill="#ebebec" stroke="#444" stroke-width="0.6"/>
<rect x="385.6" y="228.4" width="7.6" height="6.4" rx="1" fill="#dededf" stroke="#555" stroke-width="0.5"/>
<path class="d" d="M387.7,206.6 V234.6 M393.4,206.6 V234.6 M387.7,210 H393.4 M385.4,218.5 H407.2 M363,226.6 H385 M363,235 H385 M363.2,226.6 V235 M379,226.6 V245 M367,245 H379"/>
<path class="k" d="M387,226.6 V234.8 M384.4,226.6 V240" stroke-width="0.6"/>
<text class="tx" x="389.4" y="207.4">8.5</text>
<text class="tx" x="402" y="217">5.5</text>
<text class="tx" transform="translate(360.6,230.8) rotate(-90)">11.2</text>
<text class="tx" x="372.8" y="244.3">7.2</text>
<!-- x cable chain -->
<path class="d" d="M436.4,209.5 H467.4 M436.4,215.4 H467.4 M437.6,205 V219.6 M445,201.6 V209.4 M457.5,201.6 V209.4 M445,203.7 H457.5 M467.4,203.7 V217.6 M467.4,203.7 H477.6 M444.2,215.4 V228 M458.6,215.4 V228 M444.2,226.6 H458.6"/>
<rect x="444.2" y="209.5" width="14.4" height="5.9" fill="#cdcdcf" stroke="#333" stroke-width="0.9"/>
<text class="tx" x="450.6" y="201.8">78</text>
<text class="tx" x="472.4" y="201.8">36</text>
<text class="tx" x="451" y="224.2">98</text>
<text class="tx" transform="translate(434.9,212.2) rotate(-90)">25</text>
<!-- y cable chain -->
<path class="d" d="M502.6,210.6 H528 M502.6,215.6 H528 M503.6,205 V219.6 M512.6,201.6 V210.4 M521.7,201.6 V210.4 M512.6,203.7 H521.7 M528,203.7 V217.6 M528,203.7 H538 M512.4,215.6 V228 M522,215.6 V228 M512.4,226.6 H522"/>
<rect x="512.4" y="210.6" width="9.6" height="5" fill="#cdcdcf" stroke="#333" stroke-width="0.9"/>
<text class="tx" x="517.2" y="201.8">50</text>
<text class="tx" x="532.6" y="201.8">30</text>
<text class="tx" x="517.4" y="224.2">62</text>
<text class="tx" transform="translate(501.4,212.8) rotate(-90)">22</text>
</g>

<!-- ===== B DETAIL ===== -->
<g id="bdetail">
<text class="tx" x="384.4" y="274.9" letter-spacing="0.1">2-Ø6<tspan font-size="6.2" dx="-0.2" font-family="DejaVu Sans, sans-serif">↧</tspan><tspan dx="-0.2">15 H7</tspan></text>
<text class="tx" x="384.6" y="316.4" letter-spacing="0.1">8-M6<tspan font-size="6.2" dx="-0.2" font-family="DejaVu Sans, sans-serif">↧</tspan><tspan dx="-0.2">15</tspan></text>
<path class="d" d="M364.6,276 H403.6 L410.6,288 M369.4,317.4 H400.4 L416.4,303.6"/>
<path class="cl" d="M432,262 V327" stroke-dasharray="7 1.5 1.5 1.5"/>
<path class="d" d="M416.2,265.6 V274 M448.5,265.6 V274" stroke-dasharray="5 1.2"/>
<path class="d" d="M412.8,316 V350.4 M414.4,316 V338.6 M450,316 V338.6 M452.2,316 V350.4"/>
<path class="da" d="M414.4,337 H450"/>
<path class="da" d="M412.8,348.8 H452.2"/>
<text class="tx" x="432.4" y="335.6">122</text>
<text class="tx" x="432.4" y="347">134</text>
<path class="d" d="M452.4,274.2 H489 M452.4,277.3 H477 M452.4,285 H465.4 M452.4,305 H465.4 M452.4,313.2 H477 M452.4,315.8 H489"/>
<path class="da" d="M464.3,285 V305"/>
<path class="da" d="M475.9,277.3 V313.2"/>
<path class="da" d="M487.8,274.2 V315.8"/>
<text class="tx" transform="translate(462.8,295) rotate(-90)">70</text>
<text class="tx" transform="translate(474,295) rotate(-90)">122</text>
<text class="tx" transform="translate(485.4,295) rotate(-90)">140</text>
<rect x="412.3" y="274.3" width="4.1" height="41.4" rx="1" fill="#cfcfd1" stroke="#444" stroke-width="0.8"/>
<rect x="448.3" y="274.3" width="4.1" height="41.4" rx="1" fill="#cfcfd1" stroke="#444" stroke-width="0.8"/>
<path d="M414.4,274.4 V315.6 M450.4,274.4 V315.6" stroke="#777" stroke-width="0.4"/>
<path d="M412.3,288 H410.4 V286.4 H408 V292 H409.6 V299.6 H408 V305 H410.4 V303.4 H412.3 Z" fill="#d8d8da" stroke="#333" stroke-width="0.7"/>
<path d="M412.3,286 L416.5,303.6" stroke="#333" stroke-width="0.5"/>
<text class="tx blu" x="515.6" y="297.8" letter-spacing="0.15">B-Detail View</text>
</g>

<!-- ===== SIDE VIEW ===== -->
<g id="sideview">
<path class="d" d="M359.6,369.6 H442 M377.4,412.6 H442 M377.4,441.6 H442 M359.6,466.3 H560.4 M432,432.6 H560.4"/>
<path class="da" d="M361,369.6 V466.3"/>
<path class="da" d="M378.9,369.6 V412.6"/>
<path class="da" d="M378.9,412.6 V441.6"/>
<path class="da" d="M378.9,441.6 V466.3"/>
<path class="da" d="M558.8,432.6 V466.3"/>
<text class="tx" transform="translate(357.6,422) rotate(-90)" style="font-size:6.35px;letter-spacing:0.1px">Z Stroke+463.5</text>
<text class="tx" transform="translate(376.2,391.2) rotate(-90)">293.5</text>
<text class="tx" transform="translate(376.2,430) rotate(-90)" style="font-size:6.3px">Z Stroke</text>
<text class="tx" transform="translate(376.2,455.4) rotate(-90)">170</text>
<text class="tx" transform="translate(556.2,449.8) rotate(-90)">233</text>
<!-- motor box -->
<rect class="o" x="387.8" y="431" width="15.4" height="32" stroke-width="0.7" fill="#f0f0f1"/>
<path class="k" d="M388.6,463 V465 M391,463 V465 M395,463 V465 M398,463 V465 M401,463 V465 M387.8,465 H403" stroke-width="0.5"/>
<!-- Y actuator -->
<path class="o" d="M403,420.8 H413 V420.2 H497 L540,420.2 Q545.2,420.2 545.2,425 V440 Q545.2,445 540,445 H413 V444 H403 Z" stroke-width="1" fill="#ececed"/>
<rect x="403.4" y="421.2" width="9.4" height="22.6" fill="#e0e0e2"/>
<path class="g" d="M413,420.8 V444.6 M416.4,420.8 V444.6 M540.4,420.6 V444.8 M538.4,420.6 V444.8"/>
<rect x="405.2" y="427.4" width="4.6" height="9.6" fill="#fff" stroke="#333" stroke-width="0.5"/>
<path class="k" d="M405.2,430 H409.8 M405.2,432.4 H409.8 M405.2,434.8 H409.8" stroke-width="0.4"/>
<path d="M463,416 L497.5,419.6 L540,420.2" class="k" stroke-width="0.8"/>
<path d="M463,416.4 L497.5,420 L463,420 Z" fill="#f5f5f5" stroke="none"/>
<g fill="#333"><circle cx="416.6" cy="427.4" r="0.5"/><circle cx="416.6" cy="437.8" r="0.5"/><circle cx="539.4" cy="426.4" r="0.5"/><circle cx="539.4" cy="438.8" r="0.5"/><circle cx="494" cy="420.6" r="0.5"/><circle cx="494" cy="444.6" r="0.5"/><circle cx="531" cy="420.6" r="0.5"/><circle cx="531" cy="444.6" r="0.5"/></g>
<!-- lower block -->
<path class="o" d="M407.8,449.2 H434 Q436.4,449.6 437,452.4 V466.5 H404.8 V452.4 Q405.4,449.6 407.8,449.2 Z" stroke-width="0.8" fill="#efeff0"/>
<path class="g" d="M404.8,445 H437 V449.2 M404.8,445 V449.2"/>
<path d="M403.8,444.6 V466.4" stroke="#555" stroke-width="0.9" fill="none"/>
<g fill="#333"><circle cx="411.6" cy="453.6" r="0.6"/><circle cx="411.6" cy="460" r="0.6"/><circle cx="429" cy="453.6" r="0.6"/><circle cx="429" cy="460" r="0.6"/></g>
<path class="g" d="M437,452 H439 V463 H437"/>
<!-- Z column -->
<rect x="442.4" y="369.6" width="20.4" height="90.4" rx="2.2" fill="#ececed" fill-opacity="0.86" stroke="#333" stroke-width="0.8"/>
<path class="g" d="M445,371 V458.6 M460.2,371 V458.6 M442.6,372 H462.6 M442.6,457.6 H462.6"/>
<path class="cl" d="M452.4,363 V471" stroke-dasharray="7 1.5 1.5 1.5"/>
<path class="k" d="M450.2,369.4 V363 H455.6 V369.4 M451.8,363 V366.6 M454,363 V366.6" stroke-width="0.5"/>
<g fill="#333"><circle cx="448.6" cy="374.4" r="0.5"/><circle cx="456.4" cy="374.4" r="0.5"/><circle cx="448.6" cy="455.6" r="0.5"/><circle cx="456.4" cy="455.6" r="0.5"/></g>
<path class="k" d="M442.6,404 V426 M462.6,404 V426" stroke-width="1.1"/>
<path class="cl" d="M398,432.6 H556"/>
<!-- hatch -->
<clipPath id="hc3"><rect x="451.2" y="411.4" width="75.6" height="32.0"/></clipPath><g clip-path="url(#hc3)" fill="none" stroke="#5dab67" stroke-width="0.95" stroke-dasharray="11 2.2"><path d="M424.3,411.4 L456.3,443.4 M452.2,411.4 L484.2,443.4 M480.1,411.4 L512.1,443.4 M508.0,411.4 L540.0,443.4" stroke-dashoffset="0.0"/><path d="M433.6,411.4 L465.6,443.4 M461.5,411.4 L493.5,443.4 M489.4,411.4 L521.4,443.4 M517.3,411.4 L549.3,443.4" stroke-dashoffset="4.4"/><path d="M442.9,411.4 L474.9,443.4 M470.8,411.4 L502.8,443.4 M498.7,411.4 L530.7,443.4 M526.6,411.4 L558.6,443.4" stroke-dashoffset="8.8"/></g>
<rect class="hbd" x="451.2" y="411.4" width="75.6" height="32"/>
<!-- B circle -->
<circle cx="453" cy="412.6" r="17" fill="none" stroke="#2aa7e0" stroke-width="0.9"/>
<text class="tx blu" x="475.8" y="392.9" style="font-size:7.2px">B</text>
<path class="d" d="M466,400.8 L473,394.6 H480.6"/>
<!-- dims top right -->
<text class="tx red" x="509.8" y="401">※1</text>
<path class="d" d="M504.4,402.6 H515 M504.4,402.6 L502,411"/>
<text class="tx" x="526.8" y="401.3">10</text>
<text class="tx" x="538.8" y="406">9</text>
<path class="d" d="M522.8,403 H531 M526.8,403 V411 M526.8,411.4 H535.4 M535.3,407.7 V416 M534.4,407.7 H542.4"/>
<!-- 43.5 -->
<path class="d" d="M469.2,457.4 V482 M452.4,471 V482"/>
<path class="da" d="M452.4,480.6 H469.2"/>
<text class="tx" x="459.2" y="478.6">43.5</text>
</g>
<!-- ===== COMBINATION BOXES ===== -->
<g id="combo">
<g fill="#fff" stroke="#4d4d4f" stroke-width="0.9">
<rect x="51.3" y="758.4" width="79.6" height="78.8" rx="7.5"/>
<rect x="134.6" y="758.4" width="79.6" height="78.8" rx="7.5"/>
<rect x="217.9" y="758.4" width="79.6" height="78.8" rx="7.5"/>
<rect x="301.4" y="758.4" width="79.6" height="78.8" rx="7.5"/>
</g>
<!-- A1 -->
<g>
<clipPath id="hc4"><rect x="79.6" y="780.6" width="45.6" height="34.4"/></clipPath><g clip-path="url(#hc4)" fill="none" stroke="#5dab67" stroke-width="0.70" stroke-dasharray="30 0"><path d="M48.9,780.6 L83.3,815.0 M69.3,780.6 L103.7,815.0 M89.7,780.6 L124.1,815.0 M110.1,780.6 L144.5,815.0" stroke-dashoffset="0.0"/><path d="M55.7,780.6 L90.1,815.0 M76.1,780.6 L110.5,815.0 M96.5,780.6 L130.9,815.0 M116.9,780.6 L151.3,815.0" stroke-dashoffset="4.4"/><path d="M62.5,780.6 L96.9,815.0 M82.9,780.6 L117.3,815.0 M103.3,780.6 L137.7,815.0 M123.7,780.6 L158.1,815.0" stroke-dashoffset="8.8"/></g>
<rect x="79.6" y="780.6" width="45.6" height="34.4" fill="none" stroke="#7fc389" stroke-width="0.7" stroke-dasharray="3 0.8 0.8 0.8"/>
<g fill="#fff" stroke="#444" stroke-width="0.7">
<rect x="53.9" y="824.3" width="74" height="9.8"/>
<rect x="67.6" y="808" width="6" height="16.3"/>
<rect x="73.6" y="773.2" width="6" height="60.9"/>
<rect x="76.4" y="809.6" width="3.2" height="9.4"/>
<circle cx="60.8" cy="829.6" r="1.9"/><circle cx="76.5" cy="829.6" r="1.9"/>
</g>
<path d="M59.9,830.6 V828.6 L60.8,829.8 L61.7,828.6 V830.6 M75.6,830.6 V828.6 L76.5,829.8 L77.4,828.6 V830.6" fill="none" stroke="#444" stroke-width="0.4"/>
</g>
<!-- A2 -->
<g>
<clipPath id="hc5"><rect x="150.2" y="780.6" width="45.8" height="34.4"/></clipPath><g clip-path="url(#hc5)" fill="none" stroke="#5dab67" stroke-width="0.70" stroke-dasharray="30 0"><path d="M119.5,780.6 L153.9,815.0 M139.9,780.6 L174.3,815.0 M160.3,780.6 L194.7,815.0 M180.7,780.6 L215.1,815.0" stroke-dashoffset="0.0"/><path d="M126.3,780.6 L160.7,815.0 M146.7,780.6 L181.1,815.0 M167.1,780.6 L201.5,815.0 M187.5,780.6 L221.9,815.0" stroke-dashoffset="4.4"/><path d="M133.1,780.6 L167.5,815.0 M153.5,780.6 L187.9,815.0 M173.9,780.6 L208.3,815.0 M194.3,780.6 L228.7,815.0" stroke-dashoffset="8.8"/></g>
<rect x="150.2" y="780.6" width="45.8" height="34.4" fill="none" stroke="#7fc389" stroke-width="0.7" stroke-dasharray="3 0.8 0.8 0.8"/>
<g fill="#fff" stroke="#444" stroke-width="0.7">
<rect x="136.6" y="824.3" width="74.4" height="9.8"/>
</g>
<g fill="none" stroke="#444" stroke-width="0.7">
<rect x="156.4" y="808" width="6.2" height="26.1"/>
<rect x="150.2" y="773.2" width="6.2" height="60.9"/>
<rect x="150.2" y="809.6" width="3.2" height="9.4"/>
</g>
<g fill="#fff" stroke="#444" stroke-width="0.7"><circle cx="143.4" cy="829.6" r="1.9"/><circle cx="153.4" cy="829.6" r="1.9"/></g>
<path d="M142.5,830.6 V828.6 L143.4,829.8 L144.3,828.6 V830.6 M152.5,830.6 V828.6 L153.4,829.8 L154.3,828.6 V830.6" fill="none" stroke="#444" stroke-width="0.4"/>
</g>
<!-- A3 -->
<g>
<clipPath id="hc6"><rect x="223.0" y="780.6" width="45.6" height="34.4"/></clipPath><g clip-path="url(#hc6)" fill="none" stroke="#5dab67" stroke-width="0.70" stroke-dasharray="30 0"><path d="M192.3,780.6 L226.7,815.0 M212.7,780.6 L247.1,815.0 M233.1,780.6 L267.5,815.0 M253.5,780.6 L287.9,815.0" stroke-dashoffset="0.0"/><path d="M199.1,780.6 L233.5,815.0 M219.5,780.6 L253.9,815.0 M239.9,780.6 L274.3,815.0 M260.3,780.6 L294.7,815.0" stroke-dashoffset="4.4"/><path d="M205.9,780.6 L240.3,815.0 M226.3,780.6 L260.7,815.0 M246.7,780.6 L281.1,815.0 M267.1,780.6 L301.5,815.0" stroke-dashoffset="8.8"/></g>
<rect x="223" y="780.6" width="45.6" height="34.4" fill="none" stroke="#7fc389" stroke-width="0.7" stroke-dasharray="3 0.8 0.8 0.8"/>
<g fill="#fff" stroke="#444" stroke-width="0.7">
<rect x="220.3" y="824.3" width="74.2" height="9.8"/>
<rect x="274.6" y="808" width="6" height="16.3"/>
<rect x="268.6" y="773.2" width="6" height="60.9"/>
<rect x="268.6" y="809.6" width="3.2" height="9.4"/>
<circle cx="271.6" cy="829.6" r="1.9"/><circle cx="287.6" cy="829.6" r="1.9"/>
</g>
<path d="M270.7,830.6 V828.6 L271.6,829.8 L272.5,828.6 V830.6 M286.7,830.6 V828.6 L287.6,829.8 L288.5,828.6 V830.6" fill="none" stroke="#444" stroke-width="0.4"/>
</g>
<!-- A4 -->
<g>
<clipPath id="hc7"><rect x="319.4" y="780.6" width="44.8" height="34.4"/></clipPath><g clip-path="url(#hc7)" fill="none" stroke="#5dab67" stroke-width="0.70" stroke-dasharray="30 0"><path d="M288.7,780.6 L323.1,815.0 M309.1,780.6 L343.5,815.0 M329.5,780.6 L363.9,815.0 M349.9,780.6 L384.3,815.0" stroke-dashoffset="0.0"/><path d="M295.5,780.6 L329.9,815.0 M315.9,780.6 L350.3,815.0 M336.3,780.6 L370.7,815.0 M356.7,780.6 L391.1,815.0" stroke-dashoffset="4.4"/><path d="M302.3,780.6 L336.7,815.0 M322.7,780.6 L357.1,815.0 M343.1,780.6 L377.5,815.0 M363.5,780.6 L397.9,815.0" stroke-dashoffset="8.8"/></g>
<rect x="319.4" y="780.6" width="44.8" height="34.4" fill="none" stroke="#7fc389" stroke-width="0.7" stroke-dasharray="3 0.8 0.8 0.8"/>
<g fill="#fff" stroke="#444" stroke-width="0.7">
<rect x="304.2" y="824.3" width="73.4" height="9.8"/>
</g>
<g fill="none" stroke="#444" stroke-width="0.7">
<rect x="352.6" y="808" width="6" height="26.1"/>
<rect x="358.6" y="773.2" width="5.8" height="60.9"/>
<rect x="361.2" y="809.6" width="3.2" height="9.4"/>
</g>
<g fill="#fff" stroke="#444" stroke-width="0.7"><circle cx="361.5" cy="829.6" r="1.9"/><circle cx="371.4" cy="829.6" r="1.9"/></g>
<path d="M360.6,830.6 V828.6 L361.5,829.8 L362.4,828.6 V830.6 M370.5,830.6 V828.6 L371.4,829.8 L372.3,828.6 V830.6" fill="none" stroke="#444" stroke-width="0.4"/>
</g>
<!-- badges -->
<g font-size="8.4" fill="#fff" text-anchor="middle" letter-spacing="0">
<circle cx="61.3" cy="768.6" r="7.2" fill="url(#bgh)"/><text x="61.3" y="771.6">A1</text>
<circle cx="144.7" cy="768.6" r="7.2" fill="url(#bgh)"/><text x="144.7" y="771.6">A2</text>
<circle cx="228.1" cy="768.6" r="7.2" fill="url(#bgh)"/><text x="228.1" y="771.6">A3</text>
<circle cx="311.4" cy="768.6" r="7.2" fill="url(#bgh)"/><text x="311.4" y="771.6">A4</text>
</g>
</g>
</svg>
<!-- notes -->
<div class="t" style="left:395px;top:557.2px;font-size:7.13px;color:#53a15c;"><span style="color:#e8383d;">※1</span>：原點回復時的移動範圍及機械極限的停止位置。</div>
<div class="t" style="left:413px;top:567.3px;font-size:5.27px;color:#6cb174;">The moving range of returning origin, the stop position of mechanical limit.</div>

<div class="t" style="left:415.5px;top:670.7px;font-size:7.2px;color:#53a15c;"><span style="color:#e8383d;font-weight:bold;">※3</span>：最高使用速度代表該行程內可使用的最高安全速</div>
<div class="t" style="left:433.5px;top:679.8px;font-size:7.2px;color:#53a15c;letter-spacing:-0.2px;">度，若超過此速度，滑台可能會有嚴重共振產生。</div>
<div class="t" style="left:433.5px;top:689.6px;font-size:5px;color:#6cb174;">Maximum speed is refers to the highest safe speedthat can be used</div>
<div class="t" style="left:433.5px;top:695.9px;font-size:5px;color:#6cb174;">in stroke. If more than the strandard speed. If may occur serious</div>
<div class="t" style="left:433.5px;top:701.6px;font-size:5px;color:#6cb174;">resonance.</div>

<!-- combination direction -->
<div class="gsq" style="left:51px;top:740.1px;"></div>
<div class="bar" style="left:62.6px;top:740.1px;width:317.4px;"></div>
<div class="t" style="left:64.5px;top:741.4px;font-size:8.9px;color:#fff;">連結方向 <span style="font-weight:bold;font-size:7.1px;">Combination Direction</span></div>

<div class="gsq" style="left:386.5px;top:740.1px;"></div>
<div class="bar" style="left:398.2px;top:740.1px;width:191.4px;"></div>
<div class="t" style="left:400px;top:741.4px;font-size:8.9px;color:#fff;">配件規格 <span style="font-weight:bold;font-size:7.2px;">Spec. Details</span></div>

<div class="btn" style="left:386.5px;top:758px;"><span class="c1">X 軸詳細規格</span><span class="c2">X-axis Detail Spec.</span><span class="pg">→ P189</span></div>
<div class="btn" style="left:496px;top:758px;"><span class="c1">Y 軸詳細規格</span><span class="c2">Y-axis Detail Spec.</span><span class="pg">→ P179</span></div>
<div class="btn" style="left:386.5px;top:780px;"><span class="c1">Z 軸詳細規格</span><span class="c2">Z-axis Detail Spec.</span><span class="pg">→ P167</span></div>
<div class="btn" style="left:496px;top:780px;"><span class="c1">馬達廠牌選定</span><span class="c2">Motor Brand Options.</span><span class="pg">→ P561</span></div>

<div class="tc" style="left:614.5px;top:759.6px;font-size:8.2px;font-weight:bold;color:#53a15c;">3 軸</div>
<div class="tc" style="left:614.4px;top:767px;font-size:6.2px;color:#53a15c;font-family:'Liberation Serif',serif;">3 axis</div>
<div class="tc" style="left:614.4px;top:775.2px;font-size:8.2px;font-weight:bold;color:#53a15c;">XYTH</div>

<div class="rtab" style="top:783px;background:#53a15c;">XYTH-A</div>
<div class="rtab" style="top:797.9px;">XYTH-G</div>
<div class="rtab" style="top:812.4px;">XYTH-P</div>
<div class="rtab" style="top:827.1px;height:13.3px;">XYTH-F</div>

<div class="t" style="left:481px;top:863px;font-size:8.3px;font-weight:bold;color:#58595b;">www.viso-auto.com</div>
<div class="abs" style="left:568.2px;top:852.3px;width:90px;height:60px;background:#53a15c;border-radius:17px 0 0 0;"></div>
</div>
</body>
</html>
